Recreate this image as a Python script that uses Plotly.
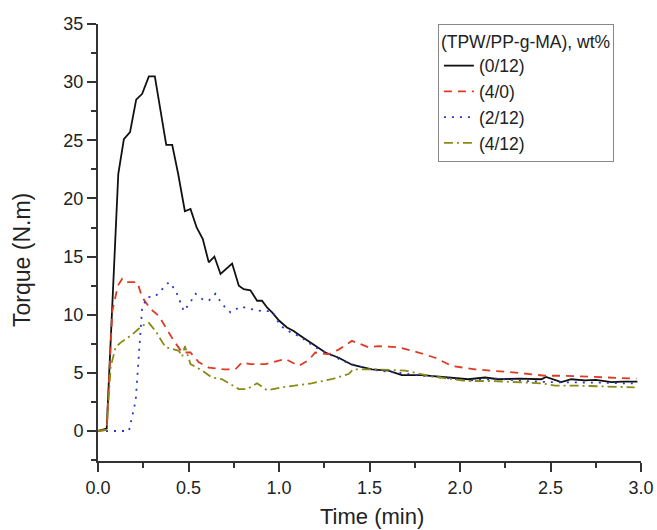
import plotly.graph_objects as go

# (0/12)
t_a = [0, 0.048, 0.112, 0.143, 0.177, 0.211, 0.244, 0.281, 0.314, 0.345, 0.377, 0.41, 0.443, 0.48, 0.511,
       0.545, 0.579, 0.612, 0.643, 0.677, 0.71, 0.741, 0.778, 0.805, 0.842, 0.879, 0.906, 0.935, 0.962, 1.0,
       1.044, 1.081, 1.118, 1.155, 1.2, 1.256, 1.33, 1.403, 1.46, 1.513, 1.605, 1.678, 1.79, 1.917, 2.046,
       2.138, 2.212, 2.33, 2.45, 2.475, 2.52, 2.56, 2.615, 2.69, 2.75, 2.837, 2.9, 2.98]
v_a = [0, 0.2, 22.1, 25.1, 25.7, 28.5, 29.0, 30.5, 30.5, 27.5, 24.6, 24.6, 22.1, 18.9, 19.1,
       17.5, 16.5, 14.5, 15.0, 13.5, 14.0, 14.4, 12.5, 12.2, 12.1, 11.2, 11.2, 10.6, 10.2, 9.5,
       8.9, 8.6, 8.2, 7.8, 7.3, 6.75, 6.3, 5.7, 5.5, 5.3, 5.2, 4.8, 4.8, 4.65, 4.45,
       4.6, 4.45, 4.5, 4.45, 4.65, 4.4, 4.2, 4.45, 4.35, 4.4, 4.2, 4.25, 4.25]

# (4/0)
t_b = [0, 0.048, 0.079, 0.11, 0.134, 0.16, 0.189, 0.217, 0.244, 0.29, 0.336, 0.38, 0.419, 0.465, 0.511,
       0.557, 0.612, 0.695, 0.759, 0.796, 0.842, 0.925, 0.98, 1.035, 1.109, 1.164, 1.2, 1.274, 1.33, 1.403,
       1.495, 1.55, 1.66, 1.77, 1.863, 1.954, 2.083, 2.175, 2.322, 2.47, 2.58, 2.745, 2.837, 2.975]
v_b = [0, 0.1, 10.3, 12.5, 13.1, 12.8, 12.8, 12.8, 11.5, 10.5, 9.9, 8.8, 7.75, 6.75, 6.75,
       5.9, 5.45, 5.3, 5.3, 5.9, 5.75, 5.75, 6.0, 6.2, 5.6, 6.1, 6.75, 6.6, 7.0, 7.75,
       7.2, 7.3, 7.2, 6.75, 6.3, 5.6, 5.3, 5.2, 5.0, 4.75, 4.75, 4.65, 4.6, 4.5]

# (2/12)
t_c = [0, 0.05, 0.1, 0.171, 0.208, 0.226, 0.244, 0.272, 0.318, 0.355, 0.392, 0.429, 0.474, 0.511, 0.539,
       0.575, 0.612, 0.649, 0.686, 0.732, 0.787, 0.842, 0.906, 0.962, 1.008, 1.063, 1.118, 1.2, 1.28, 1.357,
       1.403, 1.5, 1.6, 1.697, 1.8, 1.9, 2.046, 2.2, 2.36, 2.506, 2.65, 2.8, 2.91, 2.98]
v_c = [0, 0, 0, 0, 2.6, 6.9, 10.6, 11.5, 11.6, 12.2, 12.8, 12.1, 10.3, 11.1, 11.8,
       11.35, 11.2, 11.8, 10.9, 10.2, 10.7, 10.5, 10.3, 10.3, 9.05, 8.5, 8.1, 7.2, 6.6, 6.0,
       5.75, 5.3, 5.1, 4.9, 4.75, 4.6, 4.35, 4.5, 4.3, 4.2, 4.2, 4.15, 4.1, 4.1]

# (4/12)
t_d = [0, 0.048, 0.07, 0.097, 0.125, 0.189, 0.244, 0.281, 0.318, 0.373, 0.447, 0.465, 0.48, 0.511, 0.575,
       0.63, 0.686, 0.778, 0.824, 0.879, 0.934, 1.035, 1.18, 1.29, 1.385, 1.41, 1.53, 1.697, 1.826, 2.028,
       2.175, 2.45, 2.525, 2.65, 2.965]
v_d = [0, 0.1, 5.5, 7.2, 7.6, 8.3, 9.05, 9.3, 8.6, 7.2, 6.9, 6.4, 7.3, 5.75, 5.2,
       4.6, 4.45, 3.6, 3.6, 4.1, 3.5, 3.8, 4.1, 4.45, 4.9, 5.3, 5.3, 5.2, 4.75, 4.3,
       4.3, 4.1, 3.9, 3.9, 3.75]

names = ["(0/12)", "(4/0)", "(2/12)", "(4/12)"]
colors = ["#111111", "#dd3b25", "#2b35c9", "#8a8a16"]
dashes = ["solid", "8px,6px", "2px,6px", "9px,4px,2px,4px"]
widths = [1.8, 1.8, 1.8, 1.8]

FONT = "Liberation Sans, Arial, sans-serif"

fig = go.Figure()
for t, v, n, c, d, w in zip([t_a, t_b, t_c, t_d], [v_a, v_b, v_c, v_d], names, colors, dashes, widths):
    fig.add_trace(go.Scatter(x=t, y=v, mode="lines", name=n,
                             line=dict(color=c, dash=d, width=w)))

axis_common = dict(
    showline=True, linecolor="#333333", linewidth=2,
    ticks="outside", ticklen=9, tickwidth=1.5, tickcolor="#333333",
    showgrid=False, zeroline=False, mirror=False, automargin=False,
    tickfont=dict(family=FONT, size=18, color="#222222"),
)

fig.update_xaxes(range=[0, 3.0], tick0=0, dtick=0.5, tickformat=".1f",
                 minor=dict(ticks="outside", ticklen=5, tickwidth=1.5, tickcolor="#333333", dtick=0.25, tick0=0),
                 **axis_common)
fig.update_yaxes(range=[-2.58, 35], tick0=0, dtick=5,
                 minor=dict(ticks="outside", ticklen=5, tickwidth=1.5, tickcolor="#333333", dtick=2.5, tick0=0),
                 **axis_common)

fig.add_annotation(text="Time (min)", xref="paper", yref="paper", x=0.504, y=-0.128,
                   xanchor="center", yanchor="middle", showarrow=False,
                   font=dict(family=FONT, size=22, color="#222222"))
fig.add_annotation(text="Torque (N.m)", xref="paper", yref="paper", x=-0.14, y=0.46,
                   xanchor="center", yanchor="middle", textangle=-90, showarrow=False,
                   font=dict(family=FONT, size=23, color="#222222"))

fig.update_layout(
    template="none",
    width=657, height=530,
    margin=dict(l=98, r=16, t=24, b=69, autoexpand=False),
    plot_bgcolor="white", paper_bgcolor="white",
    font=dict(family=FONT, size=17.5, color="#222222"),
    legend=dict(
        title=dict(text="(TPW/PP-g-MA), wt%", font=dict(family=FONT, size=17.5)),
        x=0.626, y=1.0, xanchor="left", yanchor="top",
        bordercolor="#888888", borderwidth=1, bgcolor="white",
        font=dict(family=FONT, size=17.5), tracegroupgap=0,
    ),
    showlegend=True,
)

fig.write_html("out.html", config={"displayModeBar": False},
               post_script="document.body.style.margin='0';document.body.style.overflow='hidden';")
